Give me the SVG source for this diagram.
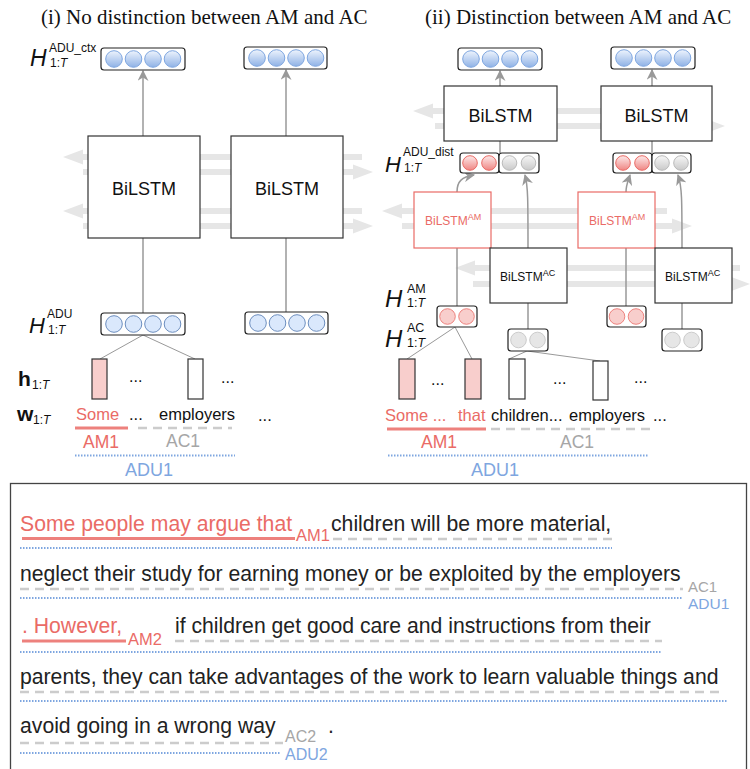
<svg xmlns="http://www.w3.org/2000/svg" width="750" height="769" viewBox="0 0 750 769">
<defs>
<linearGradient id="gBlue" x1="0" y1="0" x2="0" y2="1"><stop offset="0" stop-color="#eef4fd"/><stop offset="1" stop-color="#8fb2e6"/></linearGradient>
<linearGradient id="gRed" x1="0" y1="0" x2="0" y2="1"><stop offset="0" stop-color="#fdeaea"/><stop offset="1" stop-color="#ef8683"/></linearGradient>
<linearGradient id="gGray" x1="0" y1="0" x2="0" y2="1"><stop offset="0" stop-color="#f7f7f7"/><stop offset="1" stop-color="#c9c9c9"/></linearGradient>
<marker id="ah" markerUnits="userSpaceOnUse" markerWidth="11" markerHeight="11" refX="9" refY="5" orient="auto" viewBox="0 0 10 10"><path d="M0,0 L10,5 L0,10 L3,5 Z" fill="#999"/></marker>
<style>
.t{font-family:"Times New Roman","Liberation Serif",serif;font-size:21px;fill:#111}
.s{font-family:Arial,"Liberation Sans",sans-serif}
.blk{fill:#111}
.red{fill:#EA6B66}
.gr{fill:#a6a6a6}
.bl{fill:#7EA6E0}
.box{fill:#fff;stroke:#333;stroke-width:1.2}
.boxr{fill:#fff;stroke:#EA6B66;stroke-width:1.2}
.vec{fill:#fff;stroke:#222;stroke-width:1.2}
.cb{fill:url(#gBlue);stroke:#7EA6E0;stroke-width:1}
.cbf{fill:#dae8fc;stroke:#6c8ebf;stroke-width:1}
.cr{fill:url(#gRed);stroke:#EA6B66;stroke-width:1}
.crf{fill:#f8cecc;stroke:#EA6B66;stroke-width:0.8}
.cg{fill:url(#gGray);stroke:#bbb;stroke-width:1}
.cgf{fill:#e6e6e6;stroke:#ccc;stroke-width:1}
.hp{fill:#f8cecc;stroke:#333;stroke-width:1.2}
.hw{fill:#fff;stroke:#333;stroke-width:1.2}
.fa{fill:#e6e6e6}
.ln{stroke:#999;stroke-width:1.5;fill:none}
.lt{stroke:#999;stroke-width:1;fill:none}
.ul{stroke:#EA6B66;stroke-opacity:0.85;stroke-width:3;fill:none}
.da{stroke:#cccccc;stroke-width:2.5;stroke-dasharray:9 6;fill:none}
.dt{stroke:#7EA6E0;stroke-width:2;stroke-dasharray:1.5 1.5;fill:none}
.w{font-family:Arial,"Liberation Sans",sans-serif;font-size:16.5px}
.b{font-family:Arial,"Liberation Sans",sans-serif;font-size:21.2px;fill:#222}
</style>
</defs>
<rect width="750" height="769" fill="#fff"/>

<text class="t" x="41" y="24">(i) No distinction between AM and AC</text>
<text class="t" x="425" y="24">(ii) Distinction between AM and AC</text>

<!-- flow arrows -->
<g id="flow-arrows">
<path class="fa" d="M63 157 L83 149.5 L83 154 L362 154 L362 160 L83 160 L83 164.5 Z"/>
<path class="fa" d="M373 172 L353 164.5 L353 169 L83 169 L83 175 L353 175 L353 179.5 Z"/>
<path class="fa" d="M63 211 L83 203.5 L83 208 L362 208 L362 214 L83 214 L83 218.5 Z"/>
<path class="fa" d="M373 226 L353 218.5 L353 223 L83 223 L83 229 L353 229 L353 233.5 Z"/>
<path class="fa" d="M413 111 L433 103.5 L433 108 L712 108 L712 114 L433 114 L433 118.5 Z"/>
<path class="fa" d="M725 126 L705 118.5 L705 123 L435 123 L435 129 L705 129 L705 133.5 Z"/>
<path class="fa" d="M382 211 L402 203.5 L402 208 L667 208 L667 214 L402 214 L402 218.5 Z"/>
<path class="fa" d="M692 226 L672 218.5 L672 223 L402 223 L402 229 L672 229 L672 233.5 Z"/>
<path class="fa" d="M455 268 L475 260.5 L475 265 L740 265 L740 271 L475 271 L475 275.5 Z"/>
<path class="fa" d="M750 284 L730 276.5 L730 281 L473 281 L473 287 L730 287 L730 291.5 Z"/>
</g>

<!-- connectors -->
<g id="connectors">
<path class="ln" d="M143 136 V71" marker-end="url(#ah)"/>
<path class="ln" d="M286 136 V70" marker-end="url(#ah)"/>
<path class="ln" d="M143 238 V313"/>
<path class="ln" d="M286 238 V312"/>
<path class="lt" d="M143 335 L100 359 M143 335 L195 359"/>
<path class="ln" d="M500 86 V71" marker-end="url(#ah)"/>
<path class="ln" d="M652 86 V70" marker-end="url(#ah)"/>
<path class="ln" d="M500 141 V153"/>
<path class="ln" d="M652 141 V153"/>
<path class="ln" d="M457 192 C457 181 462 177 474 175" marker-end="url(#ah)"/>
<path class="ln" d="M528 248 C528 200 528 186 525 175" marker-end="url(#ah)"/>
<path class="ln" d="M626 192 C626 185 628 181 630 175" marker-end="url(#ah)"/>
<path class="ln" d="M682 248 C682 200 682 186 678 175" marker-end="url(#ah)"/>
<path class="ln" d="M457 248 V306"/>
<path class="ln" d="M626 248 V306"/>
<path class="ln" d="M528 303 V329"/>
<path class="ln" d="M682 303 V329"/>
<path class="lt" d="M455 327 L407 359 M455 327 L472 359"/>
<path class="lt" d="M527 351 L509 359 M527 351 L600 361"/>
</g>

<!-- left panel nodes -->
<g id="vec-ctx-1"><rect class="vec" x="101" y="48" width="84" height="22" rx="3"/>
<circle class="cb" cx="114" cy="59" r="8.3"/><circle class="cb" cx="133.5" cy="59" r="8.3"/><circle class="cb" cx="153" cy="59" r="8.3"/><circle class="cb" cx="172.5" cy="59" r="8.3"/></g>
<g id="vec-ctx-2"><rect class="vec" x="244" y="47" width="83" height="22" rx="3"/>
<circle class="cb" cx="257" cy="58" r="8.3"/><circle class="cb" cx="276.5" cy="58" r="8.3"/><circle class="cb" cx="296" cy="58" r="8.3"/><circle class="cb" cx="315.5" cy="58" r="8.3"/></g>
<g id="label-ctx"><text class="s" x="30" y="66" font-size="23" font-style="italic" fill="#111">H</text>
<text class="s" x="49" y="52" font-size="12" fill="#111">ADU_ctx</text>
<text class="s" x="50" y="67" font-size="12" fill="#111">1:<tspan font-style="italic">T</tspan></text></g>

<g id="bilstm-l1"><rect class="box" x="88" y="136" width="112" height="102"/><text class="s blk" x="144" y="195" font-size="18" text-anchor="middle">BiLSTM</text></g>
<g id="bilstm-l2"><rect class="box" x="231" y="136" width="112" height="102"/><text class="s blk" x="287" y="195" font-size="18" text-anchor="middle">BiLSTM</text></g>

<g id="vec-adu-1"><rect class="vec" x="101" y="313" width="84" height="22" rx="3"/>
<circle class="cbf" cx="114" cy="324" r="8.3"/><circle class="cbf" cx="133.5" cy="324" r="8.3"/><circle class="cbf" cx="153" cy="324" r="8.3"/><circle class="cbf" cx="172.5" cy="324" r="8.3"/></g>
<g id="vec-adu-2"><rect class="vec" x="245" y="312" width="83" height="22" rx="3"/>
<circle class="cbf" cx="258" cy="323" r="8.3"/><circle class="cbf" cx="277.5" cy="323" r="8.3"/><circle class="cbf" cx="297" cy="323" r="8.3"/><circle class="cbf" cx="316.5" cy="323" r="8.3"/></g>
<g id="label-adu"><text class="s" x="29" y="333" font-size="22" font-style="italic" fill="#111">H</text>
<text class="s" x="47" y="318" font-size="12" fill="#111">ADU</text>
<text class="s" x="48" y="334" font-size="12" fill="#111">1:<tspan font-style="italic">T</tspan></text></g>

<g id="h-left"><rect class="hp" x="92" y="359" width="15" height="40"/><rect class="hw" x="188" y="359" width="15" height="40"/>
<text class="s blk" x="129" y="382" font-size="16">...</text><text class="s blk" x="221" y="383" font-size="16">...</text></g>
<g id="label-h-left"><text class="s" x="18" y="386" font-size="21" font-weight="bold" fill="#111">h</text>
<text class="s" x="32" y="389" font-size="12" fill="#111">1:<tspan font-style="italic">T</tspan></text>
<text class="s" x="17" y="421" font-size="21" font-weight="bold" fill="#111">w</text>
<text class="s" x="33" y="424" font-size="12" fill="#111">1:<tspan font-style="italic">T</tspan></text></g>

<g id="words-left">
<text class="w red" x="76" y="420">Some</text>
<text class="w blk" x="129" y="420">...</text>
<text class="w blk" x="159" y="420">employers</text>
<text class="w blk" x="258" y="421">...</text>
<path class="ul" d="M75 428 H128" stroke-width="2.5"/>
<path class="da" d="M138 428 H232"/>
<text class="s red" x="101" y="448" font-size="17.5" text-anchor="middle">AM1</text>
<text class="s gr" x="183" y="447" font-size="17.5" text-anchor="middle">AC1</text>
<path class="dt" d="M75 455.5 H235" stroke-width="2.5"/>
<text class="s bl" x="149" y="476" font-size="18" text-anchor="middle">ADU1</text>
</g>

<!-- right panel nodes -->
<g id="vec-r-top-1"><rect class="vec" x="458" y="48" width="84" height="22" rx="3"/>
<circle class="cb" cx="471" cy="59" r="8.3"/><circle class="cb" cx="490.5" cy="59" r="8.3"/><circle class="cb" cx="510" cy="59" r="8.3"/><circle class="cb" cx="529.5" cy="59" r="8.3"/></g>
<g id="vec-r-top-2"><rect class="vec" x="611" y="47" width="84" height="22" rx="3"/>
<circle class="cb" cx="624" cy="58" r="8.3"/><circle class="cb" cx="643.5" cy="58" r="8.3"/><circle class="cb" cx="663" cy="58" r="8.3"/><circle class="cb" cx="682.5" cy="58" r="8.3"/></g>
<g id="bilstm-r1"><rect class="box" x="444" y="86" width="113" height="55"/><text class="s blk" x="500.5" y="122" font-size="18" text-anchor="middle">BiLSTM</text></g>
<g id="bilstm-r2"><rect class="box" x="601" y="86" width="111" height="55"/><text class="s blk" x="656.5" y="122" font-size="18" text-anchor="middle">BiLSTM</text></g>

<g id="vec-dist-1"><rect class="vec" x="460" y="153" width="39" height="20" rx="3"/><rect class="vec" x="499" y="153" width="40" height="20" rx="3"/>
<circle class="cr" cx="470" cy="163" r="7.3"/><circle class="cr" cx="489" cy="163" r="7.3"/><circle class="cg" cx="509.5" cy="163" r="7.3"/><circle class="cg" cx="528.5" cy="163" r="7.3"/></g>
<g id="vec-dist-2"><rect class="vec" x="613" y="153" width="39" height="20" rx="3"/><rect class="vec" x="652" y="153" width="39" height="20" rx="3"/>
<circle class="cr" cx="623" cy="163" r="7.3"/><circle class="cr" cx="642" cy="163" r="7.3"/><circle class="cg" cx="662" cy="163" r="7.3"/><circle class="cg" cx="681" cy="163" r="7.3"/></g>
<g id="label-dist"><text class="s" x="385" y="172" font-size="22" font-style="italic" fill="#111">H</text>
<text class="s" x="403" y="156" font-size="12" fill="#111">ADU_dist</text>
<text class="s" x="404" y="172" font-size="12" fill="#111">1:<tspan font-style="italic">T</tspan></text></g>

<g id="bilstm-am-1"><rect class="boxr" x="414" y="192" width="77" height="56"/><text class="s red" x="425" y="225" font-size="12">BiLSTM<tspan font-size="9" dy="-5">AM</tspan></text></g>
<g id="bilstm-am-2"><rect class="boxr" x="578" y="192" width="77" height="56"/><text class="s red" x="589" y="225" font-size="12">BiLSTM<tspan font-size="9" dy="-5">AM</tspan></text></g>
<g id="bilstm-ac-1"><rect class="box" x="490" y="248" width="77" height="55"/><text class="s blk" x="500" y="281" font-size="12">BiLSTM<tspan font-size="9" dy="-5">AC</tspan></text></g>
<g id="bilstm-ac-2"><rect class="box" x="655" y="248" width="77" height="55"/><text class="s blk" x="665" y="281" font-size="12">BiLSTM<tspan font-size="9" dy="-5">AC</tspan></text></g>

<g id="vec-am-1"><rect class="vec" x="437" y="306" width="40" height="21" rx="3"/><circle class="crf" cx="447.5" cy="316.5" r="7.8"/><circle class="crf" cx="466.5" cy="316.5" r="7.8"/></g>
<g id="vec-am-2"><rect class="vec" x="607" y="306" width="39" height="21" rx="3"/><circle class="crf" cx="617" cy="316.5" r="7.8"/><circle class="crf" cx="636" cy="316.5" r="7.8"/></g>
<g id="vec-ac-1"><rect class="vec" x="508" y="329" width="40" height="22" rx="3"/><circle class="cgf" cx="518.5" cy="340" r="7.8"/><circle class="cgf" cx="537.5" cy="340" r="7.8"/></g>
<g id="vec-ac-2"><rect class="vec" x="662" y="329" width="40" height="22" rx="3"/><circle class="cgf" cx="672.5" cy="340" r="7.8"/><circle class="cgf" cx="691.5" cy="340" r="7.8"/></g>
<g id="label-am-ac"><text class="s" x="385" y="307" font-size="24" font-style="italic" fill="#111">H</text>
<text class="s" x="407" y="292.5" font-size="12.5" fill="#111">AM</text>
<text class="s" x="407" y="307" font-size="12.5" fill="#111">1:<tspan font-style="italic">T</tspan></text>
<text class="s" x="385" y="347" font-size="24" font-style="italic" fill="#111">H</text>
<text class="s" x="407" y="332" font-size="12.5" fill="#111">AC</text>
<text class="s" x="407" y="347" font-size="12.5" fill="#111">1:<tspan font-style="italic">T</tspan></text></g>

<g id="h-right"><rect class="hp" x="399" y="359" width="16" height="40"/><rect class="hp" x="465" y="359" width="16" height="40"/>
<rect class="hw" x="509" y="359" width="16" height="40"/><rect class="hw" x="593" y="361" width="15" height="39"/>
<text class="s blk" x="431" y="385" font-size="16">...</text><text class="s blk" x="553" y="384" font-size="16">...</text><text class="s blk" x="634" y="383" font-size="16">...</text></g>

<g id="words-right">
<text class="w red" x="385" y="421">Some ...</text>
<text class="w red" x="458" y="421">that</text>
<text class="w blk" x="491" y="421">children...</text>
<text class="w blk" x="569" y="421">employers</text>
<text class="w blk" x="653" y="421">...</text>
<path class="ul" d="M387 429 H486" stroke-width="2.5"/>
<path class="da" d="M491 429 H650"/>
<text class="s red" x="439" y="448" font-size="17.5" text-anchor="middle">AM1</text>
<text class="s gr" x="577" y="448" font-size="17.5" text-anchor="middle">AC1</text>
<path class="dt" d="M388 455.5 H648" stroke-width="2.5"/>
<text class="s bl" x="495" y="476" font-size="18" text-anchor="middle">ADU1</text>
</g>

<!-- bottom text box -->
<g id="essay">
<rect x="10.5" y="483.5" width="736" height="300" fill="none" stroke="#444" stroke-width="1.3"/>
<text class="b" x="20" y="531" style="fill:#EA6B66">Some people may argue that</text>
<text class="s red" x="296" y="541" font-size="16.5">AM1</text>
<text class="b" x="331" y="531">children will be more material,</text>
<path class="ul" d="M22 538.5 H295"/>
<path class="da" d="M333 539 H612"/>
<path class="dt" d="M20 548 H612"/>

<text class="b" x="20" y="581">neglect their study for earning money or be exploited by the employers</text>
<text class="s gr" x="688" y="592" font-size="15">AC1</text>
<path class="da" d="M20 589 H683"/>
<path class="dt" d="M20 598 H683"/>
<text class="s bl" x="688" y="609" font-size="15.5">ADU1</text>

<text class="b" x="22" y="633" style="fill:#EA6B66">. However,</text>
<text class="s red" x="128" y="645" font-size="16.5">AM2</text>
<text class="b" x="175" y="633">if children get good care and instructions from their</text>
<path class="ul" d="M22 641 H126"/>
<path class="da" d="M175 641 H662"/>
<path class="dt" d="M20 652 H662"/>

<text class="b" x="20" y="684">parents, they can take advantages of the work to learn valuable things and</text>
<path class="da" d="M20 692 H725"/>
<path class="dt" d="M20 701 H728"/>

<text class="b" x="20" y="733">avoid going in a wrong way</text>
<text class="s gr" x="285" y="742" font-size="16">AC2</text>
<text class="b" x="328" y="733">.</text>
<path class="da" d="M20 743 H283"/>
<path class="dt" d="M20 753 H280"/>
<text class="s bl" x="285" y="760" font-size="16">ADU2</text>
</g>
</svg>
